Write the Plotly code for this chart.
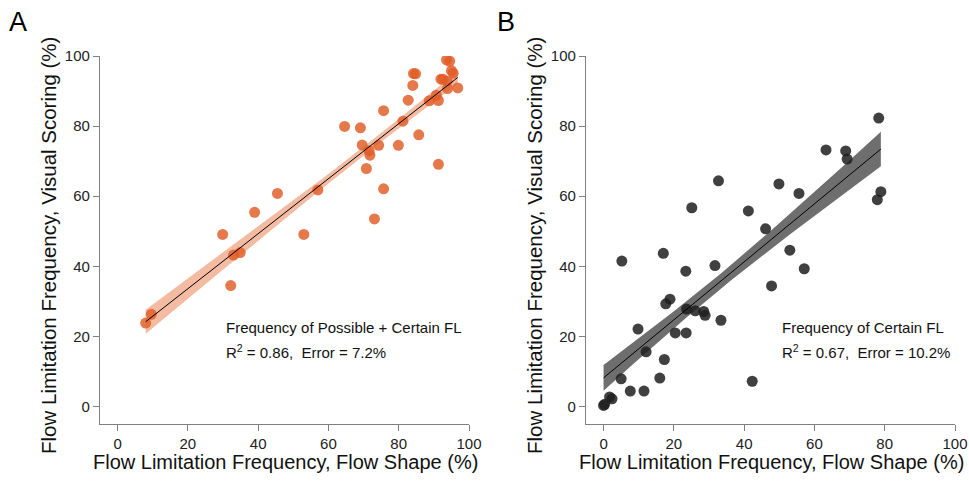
import numpy as np
import plotly.graph_objects as go

# Panel A: Possible + Certain FL
a_flow_shape = [29.9, 39.0, 45.5, 53.0, 57.0, 64.6, 69.1, 69.6, 71.6, 71.8,
                70.8, 74.3, 75.7, 75.7, 73.1, 79.9, 81.2, 82.7, 84.0, 84.2,
                84.8, 85.7, 88.7, 90.7, 91.3, 91.3, 92.0, 92.6, 93.6, 94.5,
                93.8, 93.9, 95.0, 95.5, 96.8, 33.0, 34.9, 32.2, 9.6, 8.0]
a_visual = [49.1, 55.4, 60.8, 49.1, 61.8, 79.9, 79.5, 74.6, 73.0, 71.7,
            67.9, 74.5, 84.4, 62.1, 53.5, 74.5, 81.4, 87.4, 91.6, 95.0,
            94.9, 77.5, 87.2, 88.8, 87.3, 69.1, 93.4, 93.4, 98.9, 98.5,
            92.8, 90.7, 95.8, 95.1, 90.9, 43.2, 43.9, 34.5, 26.3, 23.8]

# Panel B: Certain FL
b_flow_shape = [25.1, 32.7, 41.2, 46.1, 49.9, 55.6, 63.3, 68.9, 69.3, 78.3,
                78.9, 77.9, 5.2, 17.0, 23.4, 31.7, 53.0, 57.1, 47.8, 18.9,
                17.7, 23.6, 26.1, 28.5, 28.9, 33.4, 9.8, 20.4, 23.5, 12.1,
                17.3, 5.0, 16.0, 7.6, 11.5, 42.3, 1.7, 2.4, 0.3, 0.0]
b_visual = [56.7, 64.4, 55.8, 50.7, 63.5, 60.8, 73.2, 72.9, 70.6, 82.3,
            61.3, 59.0, 41.5, 43.7, 38.6, 40.2, 44.6, 39.3, 34.4, 30.6,
            29.3, 27.8, 27.3, 27.1, 26.0, 24.6, 22.1, 21.0, 21.0, 15.6,
            13.4, 7.9, 8.1, 4.4, 4.4, 7.2, 2.7, 2.2, 0.6, 0.3]

tick_vals = [0, 20, 40, 60, 80, 100]
x_title = "Flow Limitation Frequency, Flow Shape (%)"
y_title = "Flow Limitation Frequency, Visual Scoring (%)"
a_text = ["Frequency of Possible + Certain FL", "R<sup>2</sup> = 0.86,  Error = 7.2%"]
b_text = ["Frequency of Certain FL", "R<sup>2</sup> = 0.67,  Error = 10.2%"]


def fit_band(x, y):
    x = np.asarray(x, float)
    y = np.asarray(y, float)
    slope, icpt = np.polyfit(x, y, 1)
    xs = np.linspace(x.min(), x.max(), 100)
    ys = slope * xs + icpt
    resid = y - (slope * x + icpt)
    n = len(x)
    s = np.sqrt(np.sum(resid ** 2) / (n - 2))
    sxx = np.sum((x - x.mean()) ** 2)
    se = s * np.sqrt(1.0 / n + (xs - x.mean()) ** 2 / sxx)
    return xs, ys, ys - se, ys + se


W, H = 969, 490
fig = go.Figure()

panels = [
    (a_flow_shape, a_visual, "x", "y", "rgba(224,92,36,0.82)", "rgba(232,120,70,0.5)"),
    (b_flow_shape, b_visual, "x2", "y2", "rgba(30,30,30,0.85)", "rgba(85,85,85,0.85)"),
]
for xd, yd, xa, ya, pc, bc in panels:
    xs, ys, lo, hi = fit_band(xd, yd)
    fig.add_trace(go.Scatter(x=np.concatenate([xs, xs[::-1]]), y=np.concatenate([hi, lo[::-1]]),
                             fill="toself", fillcolor=bc, line=dict(width=0), mode="lines",
                             hoverinfo="skip", showlegend=False, xaxis=xa, yaxis=ya))
    fig.add_trace(go.Scatter(x=xd, y=yd, mode="markers",
                             marker=dict(size=11, color=pc, line=dict(width=0)),
                             showlegend=False, xaxis=xa, yaxis=ya))
    fig.add_trace(go.Scatter(x=xs, y=ys, mode="lines", line=dict(color="black", width=1),
                             showlegend=False, xaxis=xa, yaxis=ya))

axis_font = "Liberation Sans, Arial, sans-serif"
common = dict(range=[-5, 100], tickvals=tick_vals, showline=True, linecolor="#808080",
              linewidth=1.2, ticks="outside", ticklen=6, tickcolor="#808080",
              showgrid=False, zeroline=False, automargin=False,
              tickfont=dict(family=axis_font, size=15, color="#222"))

y0, y1 = 1 - 424 / H, 1 - 56 / H
fig.update_layout(
    width=W, height=H, margin=dict(l=0, r=0, t=0, b=0),
    paper_bgcolor="white", plot_bgcolor="white",
    xaxis=dict(domain=[100 / W, 469 / W], anchor="y", **common),
    yaxis=dict(domain=[y0, y1], anchor="x", **common),
    xaxis2=dict(domain=[586 / W, 955 / W], anchor="y2", **common),
    yaxis2=dict(domain=[y0, y1], anchor="x2", **common),
)

ann = []
for cx in (285, 771):
    ann.append(dict(x=cx / W, y=1 - 462 / H, xref="paper", yref="paper", text=x_title,
                    showarrow=False, xanchor="center", yanchor="middle",
                    font=dict(family=axis_font, size=20, color="#111")))
for cx in (48, 534):
    ann.append(dict(x=cx / W, y=1 - 246 / H, xref="paper", yref="paper", text=y_title,
                    showarrow=False, xanchor="center", yanchor="middle", textangle=-90,
                    font=dict(family=axis_font, size=20.5, color="#111")))
for lbl, cx in (("A", 18), ("B", 506)):
    ann.append(dict(x=cx / W, y=1 - 22 / H, xref="paper", yref="paper", text=lbl,
                    showarrow=False, xanchor="center", yanchor="middle",
                    font=dict(family=axis_font, size=27, color="black")))
for txt, lx in ((a_text, 224), (b_text, 780)):
    for i, t in enumerate(txt):
        ann.append(dict(x=lx / W, y=1 - (327 + 24 * i) / H, xref="paper", yref="paper", text=t,
                        showarrow=False, xanchor="left", yanchor="middle",
                        font=dict(family=axis_font, size=15, color="#111")))
fig.update_layout(annotations=ann)

fig.write_html("out.html", config={"displayModeBar": False},
               post_script="document.body.style.margin='0px';document.body.style.overflow='hidden';")
